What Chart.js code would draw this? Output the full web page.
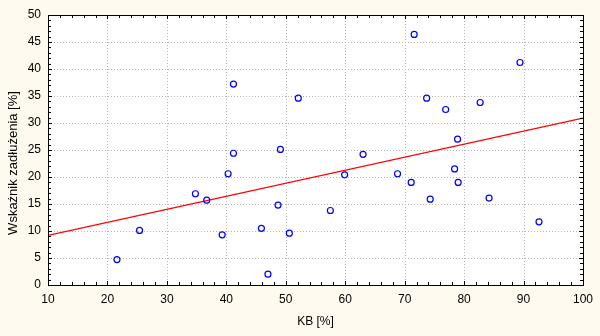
<!DOCTYPE html>
<html>
<head>
<meta charset="utf-8">
<script src="https://cdn.jsdelivr.net/npm/chart.js"></script>
<style>
  html, body { margin: 0; padding: 0; background: #fffaf0; }
  #wrap { width: 600px; height: 336px; }
</style>
</head>
<body>
<div id="wrap"><canvas id="chart" width="600" height="336"></canvas></div>
<script>
// --- data ---
const kbValues = [21.6, 25.4, 34.8, 36.7, 39.3, 40.3, 41.2, 41.2, 45.9, 47.0,
                  48.7, 49.1, 50.6, 52.1, 57.5, 59.9, 63.0, 68.8, 71.1, 71.6,
                  73.7, 74.3, 76.9, 78.4, 78.9, 79.0, 82.7, 84.2, 89.4, 92.6];
const debtValues = [4.7, 10.1, 16.9, 15.7, 9.3, 20.6, 37.2, 24.4, 10.5, 2.0,
                    14.8, 25.1, 9.6, 34.6, 13.8, 20.4, 24.2, 20.6, 19.0, 46.4,
                    34.6, 15.9, 32.5, 21.5, 27.0, 19.0, 33.8, 16.1, 41.2, 11.7];
// regression line end points
const fitX = [10, 100];
const fitY = [9.2, 30.9];

const xTitle = 'KB [%]';
const yTitle = 'Wskaźnik zadłużenia [%]';

const FONT = '"Liberation Sans", Arial, sans-serif';

const points = kbValues.map((x, i) => ({ x: x, y: debtValues[i] }));
const fitLine = fitX.map((x, i) => ({ x: x, y: fitY[i] }));

// background, dotted grid, frame, inside minor ticks and the rotated y title
const framePlugin = {
    id: 'frame',
    beforeDraw(chart) {
        const { ctx, chartArea: a } = chart;
        ctx.save();
        ctx.fillStyle = '#fffaf0';
        ctx.fillRect(0, 0, chart.width, chart.height);
        ctx.fillStyle = '#ffffff';
        ctx.fillRect(a.left, a.top, a.right - a.left, a.bottom - a.top);
        ctx.restore();
    },
    beforeDatasetsDraw(chart) {
        // dotted grid at the scale's own ticks
        const { ctx, chartArea: a, scales: { x, y } } = chart;
        ctx.save();
        ctx.strokeStyle = '#b4b4b4';
        ctx.lineWidth = 1;
        ctx.setLineDash([1, 2]);
        ctx.beginPath();
        x.ticks.forEach(t => {
            const px = Math.round(x.getPixelForValue(t.value)) + 0.5;
            ctx.moveTo(px, a.top); ctx.lineTo(px, a.bottom);
        });
        y.ticks.forEach(t => {
            const py = Math.round(y.getPixelForValue(t.value)) + 0.5;
            ctx.moveTo(a.left, py); ctx.lineTo(a.right, py);
        });
        ctx.stroke();
        ctx.restore();
    },
    afterDraw(chart) {
        const { ctx, chartArea: a, scales: { x, y } } = chart;
        ctx.save();
        ctx.strokeStyle = '#000';
        ctx.lineWidth = 1;
        ctx.beginPath();

        // x minor ticks every 2
        for (let v = 10; v <= 100; v += 2) {
            const px = Math.round(x.getPixelForValue(v)) + 0.5;
            const len = v % 10 === 0 ? 4 : 3;
            ctx.moveTo(px, a.bottom); ctx.lineTo(px, a.bottom - len);
            ctx.moveTo(px, a.top); ctx.lineTo(px, a.top + len);
        }
        // y minor ticks every 1
        for (let v = 0; v <= 50; v += 1) {
            const py = Math.round(y.getPixelForValue(v)) + 0.5;
            const len = v % 5 === 0 ? 4 : 3;
            ctx.moveTo(a.left, py); ctx.lineTo(a.left + len, py);
            ctx.moveTo(a.right, py); ctx.lineTo(a.right - len, py);
        }
        ctx.stroke();

        // frame
        ctx.strokeRect(Math.round(a.left) + 0.5, Math.round(a.top) + 0.5,
                       Math.round(a.right - a.left), Math.round(a.bottom - a.top));

        // y title (sits a bit below the plot centre in the original)
        ctx.translate(13, 163);
        ctx.rotate(-Math.PI / 2);
        ctx.fillStyle = '#000';
        ctx.font = '13px ' + FONT;
        ctx.textAlign = 'center';
        ctx.textBaseline = 'middle';
        ctx.fillText(yTitle, 0, 0);
        ctx.restore();
    }
};

new Chart(document.getElementById('chart').getContext('2d'), {
    type: 'scatter',
    data: {
        datasets: [
            {
                type: 'scatter',
                data: points,
                pointStyle: 'circle',
                pointRadius: 3,
                pointBorderWidth: 1.2,
                pointBackgroundColor: 'rgba(0,0,0,0)',
                pointBorderColor: '#0000ff',
                order: 1
            },
            {
                type: 'line',
                data: fitLine,
                borderColor: '#ff0000',
                borderWidth: 1.3,
                pointRadius: 0,
                fill: false,
                order: 2
            }
        ]
    },
    options: {
        responsive: false,
        animation: false,
        events: [],
        layout: { padding: { left: 0, right: 15, top: 15, bottom: 0 } },
        plugins: {
            legend: { display: false },
            tooltip: { enabled: false }
        },
        scales: {
            x: {
                type: 'linear',
                min: 10, max: 100,
                ticks: { stepSize: 10, color: '#000', padding: 7, maxRotation: 0,
                         font: { family: FONT, size: 12 } },
                grid: { display: false, drawTicks: false },
                border: { display: false },
                title: { display: true, text: xTitle, color: '#000',
                         font: { family: FONT, size: 12 },
                         padding: { top: 0, bottom: 7 } },
                afterFit(scale) { scale.height = 51; }
            },
            y: {
                type: 'linear',
                min: 0, max: 50,
                ticks: { stepSize: 5, color: '#000', padding: 7,
                         font: { family: FONT, size: 12 } },
                grid: { display: false, drawTicks: false },
                border: { display: false },
                afterFit(scale) { scale.width = 48; }
            }
        }
    },
    plugins: [framePlugin]
});
</script>
</body>
</html>
